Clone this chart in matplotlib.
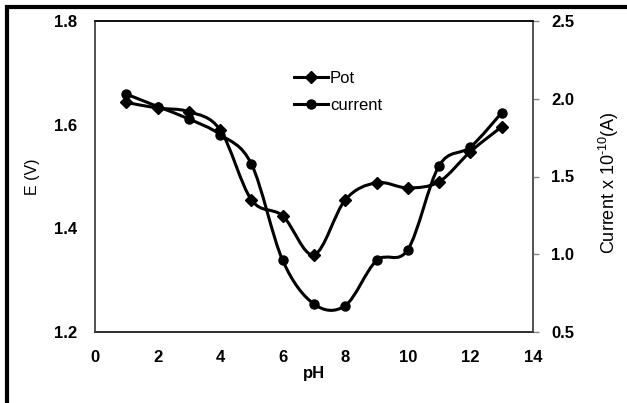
import numpy as np
import matplotlib
matplotlib.use('Agg')
import matplotlib.pyplot as plt
from matplotlib.path import Path
from matplotlib.patches import PathPatch
from matplotlib.lines import Line2D

plt.rcParams['font.family'] = ['Liberation Sans', 'DejaVu Sans']
plt.rcParams['mathtext.fontset'] = 'custom'
plt.rcParams['mathtext.rm'] = 'Liberation Sans'

# data
ph = [1, 2, 3, 4, 5, 6, 7, 8, 9, 10, 11, 12, 13]
pot = [1.643, 1.632, 1.625, 1.590, 1.455, 1.424, 1.349, 1.455, 1.488, 1.478, 1.490, 1.548, 1.596]
current = [2.03, 1.95, 1.87, 1.77, 1.58, 0.96, 0.68, 0.67, 0.96, 1.03, 1.57, 1.69, 1.91]

x_ticks = [0, 2, 4, 6, 8, 10, 12, 14]
e_ticks = [1.2, 1.4, 1.6, 1.8]
i_ticks = [0.5, 1.0, 1.5, 2.0, 2.5]


def smooth_path(xs, ys):
    # Excel-style smoothed line drawn as cubic bezier segments through the points
    p = np.column_stack([xs, ys]).astype(float)
    n = len(p)
    verts = [p[0]]
    codes = [Path.MOVETO]
    for i in range(n - 1):
        p_prev = p[i - 1] if i > 0 else p[i]
        p_next2 = p[i + 2] if i + 2 < n else p[i + 1]
        c1 = p[i] + (p[i + 1] - p_prev) / 6.0
        c2 = p[i + 1] - (p_next2 - p[i]) / 6.0
        verts += [c1, c2, p[i + 1]]
        codes += [Path.CURVE4] * 3
    return Path(verts, codes)


fig = plt.figure(figsize=(6.27, 4.03), dpi=100)
ax = fig.add_axes([95 / 627, 1 - 332 / 403, 438 / 627, 311 / 403])
ax2 = ax.twinx()

lw = 2.2
ax.add_patch(PathPatch(smooth_path(ph, pot), fill=False, edgecolor='black', lw=lw, zorder=3))
ax.plot(ph, pot, ls='none', marker='D', ms=6, color='black', zorder=4)
ax2.add_patch(PathPatch(smooth_path(ph, current), fill=False, edgecolor='black', lw=lw, zorder=3))
ax2.plot(ph, current, ls='none', marker='o', ms=6.5, color='black', zorder=4)

ax.set_xlim(0, 14)
ax.set_ylim(1.2, 1.8)
ax2.set_ylim(0.5, 2.5)
ax.set_xticks(x_ticks)
ax.set_yticks(e_ticks)
ax2.set_yticks(i_ticks)
ax.set_xticklabels([str(t) for t in x_ticks], fontweight='bold', fontsize=12)
ax.set_yticklabels([f'{t:.1f}' for t in e_ticks], fontweight='bold', fontsize=12)
ax2.set_yticklabels([f'{t:.1f}' for t in i_ticks], fontweight='bold', fontsize=12)

ax.tick_params(axis='x', length=0, pad=13)
ax.tick_params(axis='y', length=0, pad=13)
ax2.tick_params(axis='y', length=4, width=1, color='#888888', direction='out', pad=9)

for a in (ax, ax2):
    a.spines['left'].set_color('#555555')
    a.spines['bottom'].set_color('#333333')
    a.spines['top'].set_color('#111111')
    a.spines['right'].set_color('#555555')
    for s in a.spines.values():
        s.set_linewidth(1.3)

ax.set_xlabel('pH', fontsize=12, fontweight='bold', labelpad=1)
ax.set_ylabel('E (V)', fontsize=11.5, labelpad=10)
ax2.set_ylabel('Current x 10$^{\\text{-10}}$(A)', fontsize=13)
ax2.yaxis.set_label_coords(1.145, 0.48)

handles = [Line2D([], [], color='black', lw=lw, marker='D', ms=6),
           Line2D([], [], color='black', lw=lw, marker='o', ms=6.5)]
ax.legend(handles, ['Pot', 'current'], loc='upper left', bbox_to_anchor=(0.455, 0.84),
          frameon=False, fontsize=12, handlelength=2.0, handletextpad=0.15,
          labelspacing=0.75, borderaxespad=0, borderpad=0)

# outer frame of the original figure (left and top edges)
fig.add_artist(Line2D([7 / 627, 7 / 627, 1.0], [0.0, 1 - 7 / 403, 1 - 7 / 403],
                      transform=fig.transFigure, color='black', lw=3, solid_joinstyle='miter'))

fig.savefig('out.png', dpi=100)
